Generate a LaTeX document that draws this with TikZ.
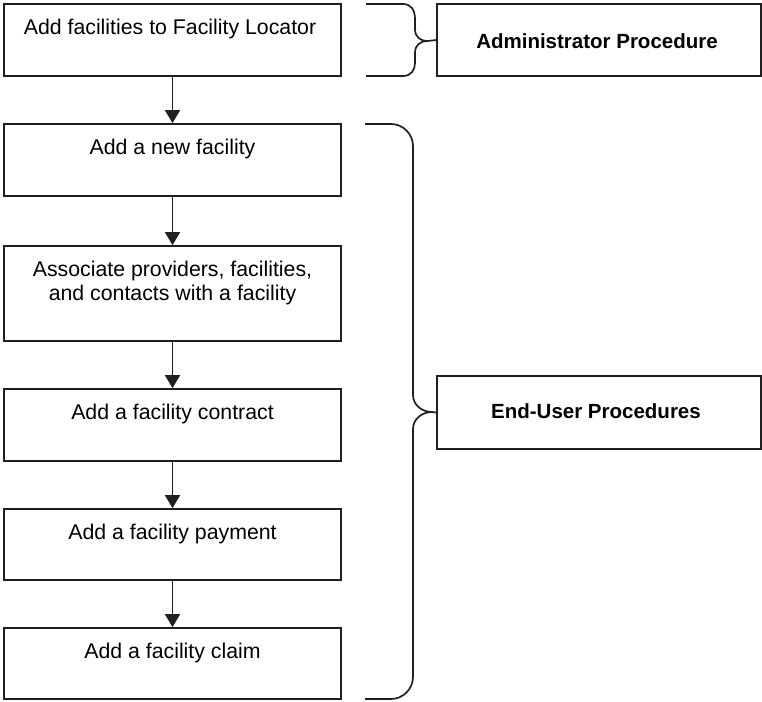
\documentclass[tikz,border=0pt]{standalone}
\usepackage{fontspec}
\setmainfont{Liberation Sans}
\usetikzlibrary{arrows.meta}
\definecolor{ln}{HTML}{202020}
\tikzset{
  box/.style={draw=ln, line width=1.7pt, rectangle, inner sep=0pt, minimum width=337pt},
  sidebox/.style={draw=ln, line width=1.7pt, rectangle, inner sep=0pt, minimum width=324pt},
  txt/.style={anchor=base, inner sep=0pt, font=\fontsize{21.3pt}{24pt}\selectfont},
  btxt/.style={anchor=base, inner sep=0pt, font=\fontsize{20.5pt}{24pt}\selectfont\bfseries},
  flow/.style={draw=ln, line width=1.7pt, -{Triangle[width=15pt,length=13pt]}},
  brace/.style={draw=ln, line width=1.7pt}
}
\begin{document}
\begin{tikzpicture}[x=1pt,y=-1pt]
\useasboundingbox (0,0) rectangle (762,701);
% left column boxes
\node[box, minimum height=72pt] (b1) at (172.5,40) {};
\node[box, minimum height=72pt] (b2) at (172.5,160) {};
\node[box, minimum height=95pt] (b3) at (172.5,293.5) {};
\node[box, minimum height=72pt] (b4) at (172.5,425) {};
\node[box, minimum height=71pt] (b5) at (172.5,544.5) {};
\node[box, minimum height=71pt] (b6) at (172.5,663.5) {};
% texts
\node[txt] (t1) at (170,34.5) {Add facilities to Facility Locator};
\node[txt] (t2) at (172.5,154.5) {Add a new facility};
\node[txt] (t3a) at (172.5,276.5) {Associate providers, facilities,};
\node[txt] (t3b) at (172.5,300.5) {and contacts with a facility};
\node[txt] (t4) at (172.5,419.5) {Add a facility contract};
\node[txt] (t5) at (172.5,539.5) {Add a facility payment};
\node[txt] (t6) at (172.5,658.5) {Add a facility claim};
% side boxes
\node[sidebox, minimum height=72pt] (adm) at (599,40) {};
\node[btxt] (tadm) at (597,48.5) {Administrator Procedure};
\node[sidebox, minimum height=73pt] (eu) at (599,412.5) {};
\node[btxt] (teu) at (596,418) {End-User Procedures};
% flow arrows
\draw[flow] (b1.south) -- (b2.north);
\draw[flow] (b2.south) -- (b3.north);
\draw[flow] (b3.south) -- (b4.north);
\draw[flow] (b4.south) -- (b5.north);
\draw[flow] (b5.south) -- (b6.north);
% top brace
\coordinate (ta) at (366,4);
\coordinate (tb) at (366,76);
\draw[brace] (ta) -- (403,4) .. controls (411,4) and (415,10) .. (415,19)
  -- (415,29) .. controls (415,37) and (420,41) .. (428,41) -- (adm.west);
\draw[brace] (tb) -- (403,76) .. controls (411,76) and (415,70) .. (415,63)
  -- (415,53) .. controls (415,45) and (420,41) .. (428,41);
% large brace
\coordinate (ba) at (365,124);
\coordinate (bb) at (365,699);
\draw[brace] (ba) -- (391,124) .. controls (403,124) and (413,134) .. (413,146)
  -- (413,395) .. controls (413,405) and (422,412) .. (432,412) -- (eu.west);
\draw[brace] (bb) -- (391,699) .. controls (403,699) and (413,689) .. (413,677)
  -- (413,429) .. controls (413,419) and (422,412) .. (432,412);
\end{tikzpicture}
\end{document}
